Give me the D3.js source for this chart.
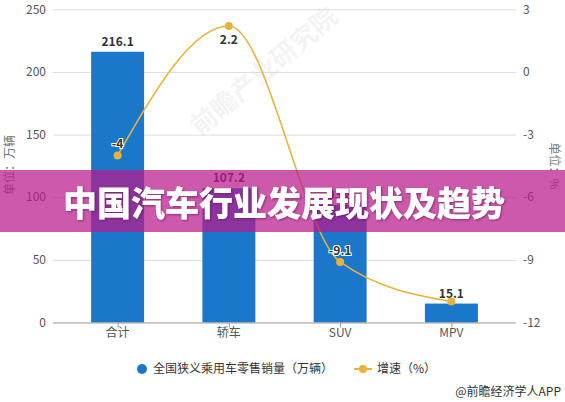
<!DOCTYPE html>
<html>
<head>
<meta charset="utf-8">
<script src="https://cdn.jsdelivr.net/npm/d3@7"></script>
<style>
  html, body { margin: 0; padding: 0; background: #fff; }
  svg { display: block; font-family: "Noto Sans CJK SC", "Noto Sans", Arial, sans-serif; }
</style>
</head>
<body>
<svg id="chart" width="565" height="402"></svg>
<script>
// ---- data ----
const categories = ["合计", "轿车", "SUV", "MPV"];
const salesValues = [216.1, 107.2, 93.8, 15.1];
const growthValues = [-4, 2.2, -9.1, -11.0];
const growthLabels = ["-4", "2.2", "-9.1", ""];
const leftTicks = [0, 50, 100, 150, 200, 250];
const rightTicks = [-12, -9, -6, -3, 0, 3];
const seriesNames = ["全国狭义乘用车零售销量（万辆）", "增速（%）"];
const leftAxisName = "单位：万辆";
const rightAxisName = "单位：%";
const sourceText = "@前瞻经济学人APP";
const bannerTitle = "中国汽车行业发展现状及趋势";
const watermarkText = "前瞻产业研究院";

// ---- layout ----
const W = 565, H = 402;
const plotLeft = 53, plotRight = 516, plotTop = 9.3, plotBottom = 322.5;
const barColor = "#1a77c9";
const lineColor = "#e8b33a";

const svg = d3.select("#chart");

const x = d3.scaleBand().domain(categories).range([62, 507]).paddingInner(0.524).paddingOuter(0.262);
const yL = d3.scaleLinear().domain([0, 250]).range([plotBottom, plotTop]);
const yR = d3.scaleLinear().domain([-12, 3]).range([plotBottom, plotTop]);

// gridlines
svg.append("g").selectAll("line").data(leftTicks.filter(d => d !== 0)).join("line")
  .attr("x1", plotLeft).attr("x2", plotRight)
  .attr("y1", d => yL(d) + 0.5).attr("y2", d => yL(d) + 0.5)
  .attr("stroke", "#dcdcdc").attr("stroke-width", 1);

// left axis labels
svg.append("g").selectAll("text").data(leftTicks).join("text")
  .attr("x", 46).attr("y", d => yL(d))
  .attr("dy", "0.35em")
  .attr("text-anchor", "end")
  .attr("font-size", 12).attr("fill", "#555")
  .text(d => d);

// right axis labels
svg.append("g").selectAll("text").data(rightTicks).join("text")
  .attr("x", 523).attr("y", d => yR(d))
  .attr("dy", "0.35em")
  .attr("text-anchor", "start")
  .attr("font-size", 12).attr("fill", "#555")
  .text(d => d);

// axis names
svg.append("text")
  .attr("transform", "translate(10,165) rotate(-90)")
  .attr("text-anchor", "middle").attr("dy", "0.35em")
  .attr("font-size", 12).attr("fill", "#777")
  .text(leftAxisName);
svg.append("text")
  .attr("transform", "translate(554,166) rotate(90)")
  .attr("text-anchor", "middle").attr("dy", "0.35em")
  .attr("font-size", 12).attr("fill", "#777")
  .text(rightAxisName);

// bars
svg.append("g").selectAll("rect").data(salesValues).join("rect")
  .attr("x", (d, i) => x(categories[i]))
  .attr("width", x.bandwidth())
  .attr("y", d => yL(d))
  .attr("height", d => yL(0) - yL(d))
  .attr("fill", barColor);

// watermark (faint, over the bars like the original image stamp)
svg.append("text")
  .attr("transform", "translate(270,78) rotate(-40)")
  .attr("text-anchor", "middle")
  .attr("font-size", 26)
  .attr("font-weight", 700)
  .attr("fill", "#d8d8d8")
  .attr("opacity", 0.3)
  .text(watermarkText);

// x axis
const xAxis = svg.append("g").attr("transform", `translate(0,${plotBottom})`);
xAxis.append("line").attr("x1", plotLeft).attr("x2", plotRight).attr("y1", 0.5).attr("y2", 0.5)
  .attr("stroke", "#999");
xAxis.selectAll("line.tick").data(categories).join("line").attr("class", "tick")
  .attr("x1", d => x(d) + x.bandwidth() / 2 + 0.5).attr("x2", d => x(d) + x.bandwidth() / 2 + 0.5)
  .attr("y1", 0).attr("y2", 5).attr("stroke", "#999");
xAxis.selectAll("text").data(categories).join("text")
  .attr("x", d => x(d) + x.bandwidth() / 2).attr("y", 14)
  .attr("text-anchor", "middle").attr("font-size", 12).attr("fill", "#555")
  .text(d => d);

// bar labels
svg.append("g").selectAll("text").data(salesValues).join("text")
  .attr("x", (d, i) => x(categories[i]) + x.bandwidth() / 2)
  .attr("y", d => yL(d) - 6)
  .attr("text-anchor", "middle")
  .attr("font-size", 12).attr("font-weight", 700).attr("fill", "#333")
  .text(d => d.toFixed(1));

// line
const cx = i => x(categories[i]) + x.bandwidth() / 2;
const line = d3.line().x((d, i) => cx(i)).y(d => yR(d)).curve(d3.curveMonotoneX);
svg.append("path").datum(growthValues)
  .attr("d", line).attr("fill", "none")
  .attr("stroke", lineColor).attr("stroke-width", 1.6);
svg.append("g").selectAll("circle").data(growthValues).join("circle")
  .attr("cx", (d, i) => cx(i)).attr("cy", d => yR(d)).attr("r", 4)
  .attr("fill", lineColor);

const maxG = d3.max(growthValues);
svg.append("g").selectAll("text").data(growthValues).join("text")
  .attr("x", (d, i) => cx(i))
  .attr("y", d => d === maxG ? yR(d) + 18 : yR(d) - 7)
  .attr("text-anchor", "middle")
  .attr("font-size", 12).attr("font-weight", 700)
  .attr("fill", "#333").attr("stroke", "#fff").attr("stroke-width", 2)
  .attr("paint-order", "stroke")
  .text((d, i) => growthLabels[i]);

// legend
const lg = svg.append("g");
lg.append("circle").attr("cx", 142).attr("cy", 369).attr("r", 5).attr("fill", barColor);
lg.append("text").attr("x", 153).attr("y", 369).attr("dy", "0.35em")
  .attr("font-size", 12).attr("fill", "#333").text(seriesNames[0]);
lg.append("line").attr("x1", 354).attr("x2", 372).attr("y1", 369).attr("y2", 369)
  .attr("stroke", lineColor).attr("stroke-width", 2);
lg.append("circle").attr("cx", 363).attr("cy", 369).attr("r", 4).attr("fill", lineColor);
lg.append("text").attr("x", 377).attr("y", 369).attr("dy", "0.35em")
  .attr("font-size", 12).attr("fill", "#333").text(seriesNames[1]);

// source
svg.append("text").attr("x", 561).attr("y", 392).attr("dy", "0.35em")
  .attr("text-anchor", "end").attr("font-size", 12).attr("fill", "#333")
  .text(sourceText);

// banner overlay
const defs = svg.append("defs");
const f = defs.append("filter").attr("id", "ts").attr("x", "-10%").attr("y", "-30%").attr("width", "120%").attr("height", "160%");
f.append("feDropShadow").attr("dx", 1).attr("dy", 1).attr("stdDeviation", 1)
  .attr("flood-color", "#5a0a45").attr("flood-opacity", 0.6);

svg.append("rect").attr("x", 0).attr("y", 170).attr("width", W).attr("height", 62)
  .attr("fill", "rgb(185,25,140)").attr("opacity", 0.72);
svg.append("text").attr("x", 284).attr("y", 204).attr("dy", "0.35em")
  .attr("text-anchor", "middle")
  .attr("font-size", 34).attr("font-weight", 900).attr("fill", "#fff")
  .attr("filter", "url(#ts)")
  .text(bannerTitle);
</script>
</body>
</html>
